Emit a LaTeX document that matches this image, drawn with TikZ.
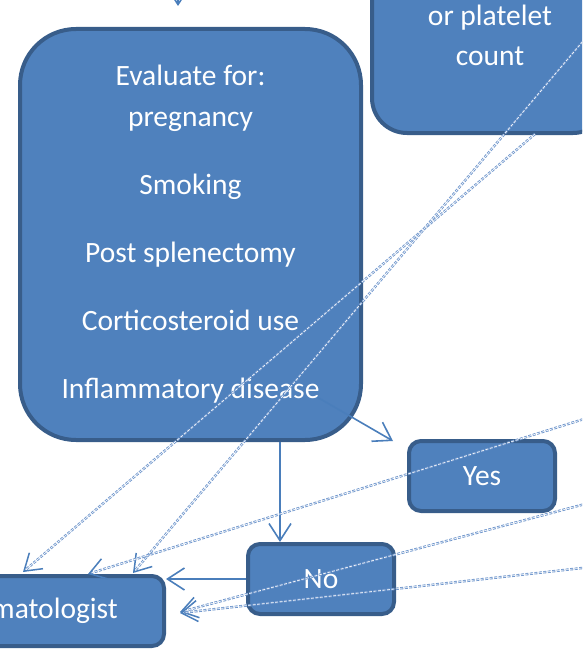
\documentclass[tikz,border=0pt]{standalone}
\usepackage{fontspec}
\setmainfont{Carlito}
\usepackage{tikz}
\usetikzlibrary{arrows.meta, positioning, calc}
\definecolor{boxblue}{HTML}{4F81BD}
\definecolor{boxedge}{HTML}{385D8A}
\definecolor{linkblue}{HTML}{4A7EBB}
\definecolor{dashblue}{HTML}{6F96CC}

\begin{document}
\begin{tikzpicture}[x=1pt, y=-1pt,
  bigbox/.style={rectangle, draw=boxedge, line width=4pt, fill=boxblue,
                 text=white, align=center, inner sep=0pt,
                 font=\fontsize{29.5pt}{41pt}\selectfont},
  smallbox/.style={bigbox, rounded corners=12pt,
                   minimum width=146pt, minimum height=70pt},
  arrow/.style={-{Straight Barb[length=17pt, width=22pt]}, line width=1.6pt,
                linkblue},
  dashlink/.style={-{Straight Barb[length=16pt, width=21pt, line width=1.5pt,
                   color=linkblue]},
                   dashblue, line width=0.9pt, double=white,
                   double distance=0.6pt, dash pattern=on 3pt off 1.5pt}
]
\useasboundingbox (0,0) rectangle (582,666);
\clip (0,0) rectangle (582,666);

% Boxes
\node[bigbox, rounded corners=56pt, minimum width=341pt, minimum height=411pt]
  (evalbox) at (190.5,234.5)
  {Evaluate for:\\pregnancy\\[27pt]Smoking\\[27pt]Post splenectomy\\[27pt]%
   Corticosteroid use\\[27pt]Inflammatory disease};
\node[bigbox, rounded corners=35pt, minimum width=236pt, minimum height=196pt,
      font=\fontsize{29.5pt}{40pt}\selectfont]
  (platebox) at (490,35) {or platelet\\count};
\node[smallbox] (yesbox) at (482,476) {Yes};
\node[smallbox] (nobox) at (321,579) {No};
\node[smallbox, minimum width=252pt] (hemabox) at (38,611)
  {\phantom{He}matologist};

% Free ends of the connectors
\coordinate (topsrc) at (178,-40);
\coordinate (evalout) at ($(evalbox.south east)+(-46,-45)$);
\coordinate (srcb) at (600,21);
\coordinate (srcc) at (600,414);
\coordinate (srcd) at (600,500);
\coordinate (srce) at (600,566);

% Solid connectors
\draw[arrow, shorten >=21pt] (topsrc) -- (topsrc |- evalbox.north);
\draw[arrow] (evalout) -- ($(yesbox.north west)+(-14,2)$);
\draw[arrow] (evalbox.south -| 280,0) -- (nobox.north -| 280,0);
\draw[arrow] (nobox.west) -- (nobox.west -| hemabox.east);

% Dashed connectors
\draw[dashlink] ($(platebox.south)+(45,-1)$) -- ($(hemabox.north east)+(-143,-2)$);
\draw[dashlink] (srcb) -- ($(hemabox.north east)+(-33,-1)$);
\draw[dashlink] (srcc) -- ($(hemabox.north east)+(-78,0)$);
\draw[dashlink] (srcd) -- ($(hemabox.east)+(14,1)$);
\draw[dashlink] (srce) -- ($(hemabox.east)+(14,2)$);

\end{tikzpicture}
\end{document}
